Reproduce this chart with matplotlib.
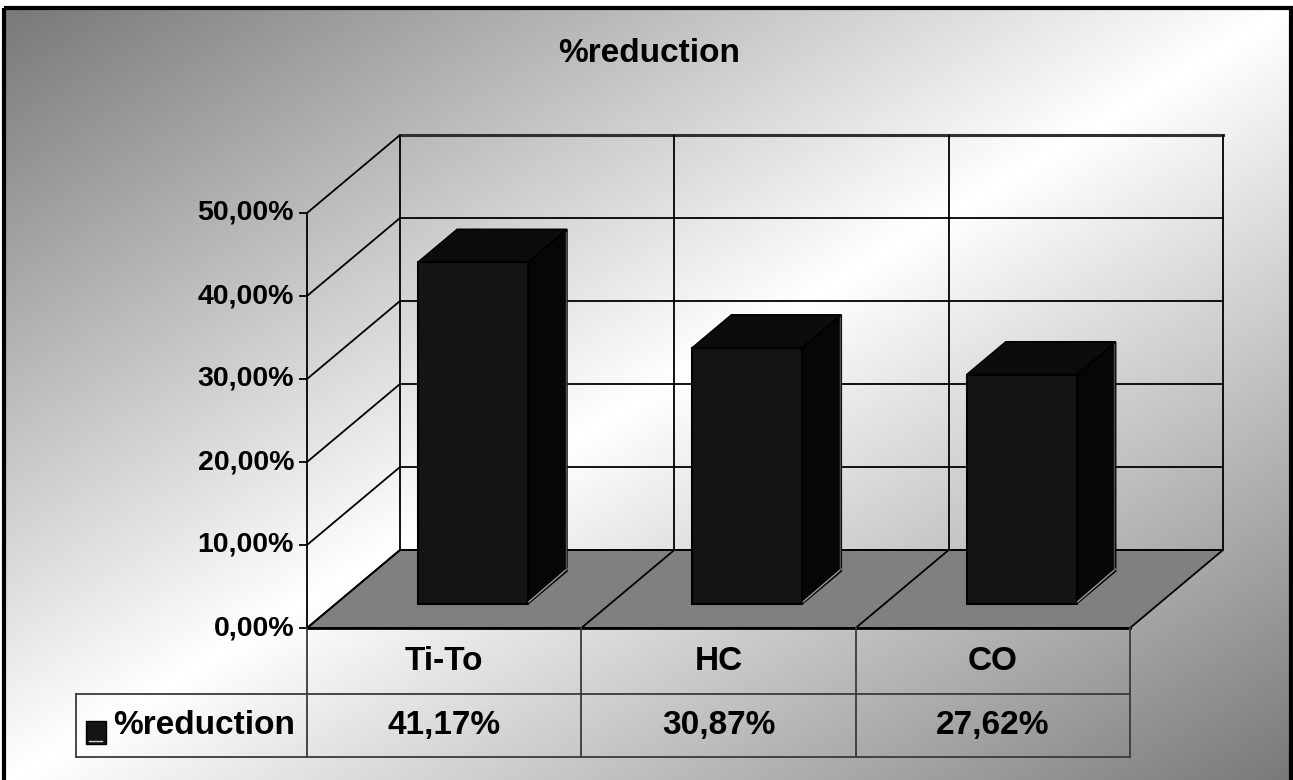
import numpy as np
import matplotlib.pyplot as plt
from matplotlib.patches import Polygon, Rectangle

# chart values
categories = ['Ti-To', 'HC', 'CO']
reduction = [41.17, 30.87, 27.62]      # percent
series_name = '%reduction'
y_ticks = [0, 10, 20, 30, 40, 50]


def pct(v):
    return f"{v:.2f}".replace('.', ',') + '%'


plt.rcParams['font.family'] = ['Liberation Sans', 'DejaVu Sans']
plt.rcParams['font.weight'] = 'bold'

W, H = 1293, 780
fig = plt.figure(figsize=(W / 100, H / 100), dpi=100)

# --- diagonal grey-white-grey backdrop with black frame
bg = fig.add_axes([0, 0, 1, 1])
xx, yy = np.meshgrid(np.linspace(0, 1, W), np.linspace(0, 1, H))
t = (xx + yy) / 2
shade = 0.47 + 0.53 * (1 - np.abs(2 * t - 1))
bg.imshow(shade, cmap='gray', vmin=0, vmax=1, extent=[4, 1291, 784, 8],
          aspect='auto', interpolation='bilinear')
bg.add_patch(Rectangle((4, 8), 1287, 780, fill=False, lw=3, ec='black'))
bg.set_xlim(0, W)
bg.set_ylim(H, 0)
bg.axis('off')

# --- plot axes: x in category units, y in percent (front plane)
PX_X, PX_Y = 274.33, 8.3          # pixels per category / per percent
X0, Y0 = 307, 628                 # front-left corner of the floor
DX, DY = 93 / PX_X, 78 / PX_Y     # depth offset of the back wall
ax = fig.add_axes([0, 0, 1, 1])
ax.set_xlim(-X0 / PX_X, (W - X0) / PX_X)
ax.set_ylim(-(H - Y0) / PX_Y, Y0 / PX_Y)
ax.axis('off')

n = len(categories)
ymax = y_ticks[-1]
line_kw = dict(color='black', lw=1.3, solid_capstyle='butt')

# floor
ax.add_patch(Polygon([(0, 0), (n, 0), (n + DX, DY), (DX, DY)],
                     closed=True, fc='#808080', ec='black', lw=1.3, zorder=1))
for i in range(1, n):
    ax.plot([i, i + DX], [0, DY], zorder=2, **line_kw)
ax.plot([0, n], [0, 0], color='black', lw=2, zorder=2)

# back wall grid
for v in y_ticks:
    ax.plot([DX, n + DX], [v + DY, v + DY], zorder=1,
            color='#303030' if v == ymax else 'black',
            lw=2.2 if v == ymax else 1.3)
for i in range(n + 1):
    ax.plot([i + DX, i + DX], [DY, ymax + DY], zorder=1, **line_kw)

# side wall grid and value axis
ax.plot([0, 0], [0, ymax], zorder=1, **line_kw)
for v in y_ticks:
    ax.plot([0, DX], [v, v + DY], zorder=1, **line_kw)
    ax.plot([-0.03, 0], [v, v], zorder=1, **line_kw)
    ax.text(-0.047, v, pct(v), ha='right', va='center', fontsize=20.5)

# bars
BW = 0.2
D0, D1 = 0.31, 0.73


def proj(x, y, d):
    return (x + d * DX, y + d * DY)


for i, v in enumerate(reduction):
    xl, xr = i + 0.5 - BW, i + 0.5 + BW
    side = [proj(xr, 0, D0), proj(xr, 0, D1), proj(xr, v, D1), proj(xr, v, D0)]
    top = [proj(xl, v, D0), proj(xr, v, D0), proj(xr, v, D1), proj(xl, v, D1)]
    front = [proj(xl, 0, D0), proj(xr, 0, D0), proj(xr, v, D0), proj(xl, v, D0)]
    ax.add_patch(Polygon(side, closed=True, fc='#060606', ec='black', lw=1.2, zorder=3))
    ax.add_patch(Polygon(top, closed=True, fc='#0c0c0c', ec='black', lw=1.2, zorder=3))
    ax.add_patch(Polygon(front, closed=True, fc='#141414', ec='black', lw=1.5, zorder=4))
    b0, b1 = proj(xr, 0, D0), proj(xr, 0, D1)
    ax.plot([b0[0] + 0.004, b1[0]], [b0[1] + 0.25, b1[1] + 0.25],
            color='#9a9a9a', lw=1, zorder=5)
    ax.plot([b1[0] - 0.004] * 2, [b1[1] + 0.3, v + D1 * DY - 0.3],
            color='#505050', lw=1, zorder=5)

# data table under the floor
R1, R2 = 66 / PX_Y, 63 / PX_Y
LEG_X = (76 - X0) / PX_X
tbl_kw = dict(color='#3a3a3a', lw=1.3, zorder=2)
for i in range(n + 1):
    ax.plot([i, i], [0, -(R1 + R2)], **tbl_kw)
ax.plot([LEG_X, n], [-R1, -R1], **tbl_kw)
ax.plot([LEG_X, n], [-(R1 + R2), -(R1 + R2)], **tbl_kw)
ax.plot([LEG_X, LEG_X], [-R1, -(R1 + R2)], **tbl_kw)

for i, (c, v) in enumerate(zip(categories, reduction)):
    ax.text(i + 0.5, -R1 / 2, c, ha='center', va='center', fontsize=24)
    ax.text(i + 0.5, -R1 - R2 / 2, pct(v), ha='center', va='center', fontsize=24)

# legend key inside the table
kx, ky = (86 - X0) / PX_X, (Y0 - 744) / PX_Y
ax.add_patch(Rectangle((kx, ky), 20 / PX_X, 23 / PX_Y, fc='#141414',
                       ec='black', lw=1, zorder=3))
ax.plot([kx + 3 / PX_X, kx + 16 / PX_X], [ky + 0.35, ky + 0.35],
        color='#d0d0d0', lw=1, zorder=4)
ax.text((113 - X0) / PX_X, -R1 - R2 / 2, series_name, ha='left', va='center',
        fontsize=24)

fig.text(649 / W, 1 - 54 / H, series_name, ha='center', va='center', fontsize=24)

fig.savefig('out.png', dpi=100)
